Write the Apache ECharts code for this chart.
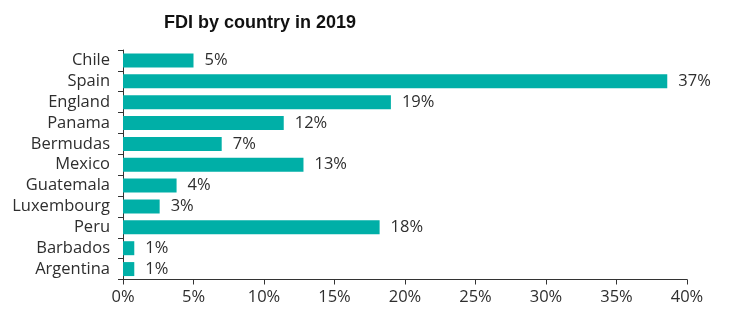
<!DOCTYPE html>
<html>
<head>
<meta charset="utf-8">
<script src="https://cdn.jsdelivr.net/npm/echarts@6/dist/echarts.min.js"></script>
<style>html,body{margin:0;padding:0;background:#fff;}#c{width:731px;height:310px;}</style>
</head>
<body>
<div id="c"></div>
<script>
var categories = ['Chile','Spain','England','Panama','Bermudas','Mexico','Guatemala','Luxembourg','Peru','Barbados','Argentina'];
var values = [5.0, 38.6, 19.0, 11.4, 7.0, 12.8, 3.8, 2.6, 18.2, 0.8, 0.8];
var valueLabels = ['5%','37%','19%','12%','7%','13%','4%','3%','18%','1%','1%'];
var xTicks = [0, 5, 10, 15, 20, 25, 30, 35, 40];

var FONT = '"Open Sans", sans-serif';
var TXT = '#2e2e2e';
var chart = echarts.init(document.getElementById('c'), null, {renderer: 'canvas'});
chart.setOption({
  animation: false,
  title: {
    text: 'FDI by country in 2019',
    left: 255, top: 9, textAlign: 'center',
    textStyle: {fontFamily: 'Liberation Sans, Arial, sans-serif', fontWeight: 'bold', fontSize: 18, color: '#111'}
  },
  grid: {left: 123, right: 44, top: 50, bottom: 30.5, containLabel: false},
  xAxis: {
    type: 'value', min: xTicks[0], max: xTicks[xTicks.length-1], interval: 5,
    axisLine: {show: true, lineStyle: {color: '#333', width: 1}},
    axisTick: {show: true, length: 5, lineStyle: {color: '#333'}},
    splitLine: {show: false},
    axisLabel: {formatter: '{value}%', fontFamily: FONT, fontSize: 16.5, color: TXT, margin: 9}
  },
  yAxis: {
    type: 'category', data: categories, inverse: true,
    axisLine: {show: true, lineStyle: {color: '#333', width: 1}},
    axisTick: {show: true, length: 5, interval: 0, lineStyle: {color: '#333'}},
    axisLabel: {interval: 0, fontFamily: FONT, fontSize: 16.5, color: TXT, margin: 13}
  },
  series: [{
    type: 'bar',
    data: values.map(function(v, i){ return {value: v, label: {formatter: valueLabels[i]}}; }),
    barCategoryGap: '33%',
    itemStyle: {color: '#00AFA7'},
    label: {show: true, position: 'right', distance: 11, fontFamily: FONT, fontSize: 16.5, color: TXT}
  }]
});
</script>
</body>
</html>
